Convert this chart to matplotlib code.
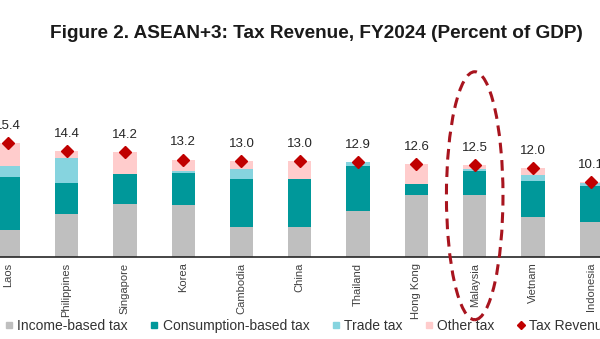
import matplotlib
matplotlib.use('Agg')
import matplotlib.pyplot as plt
from matplotlib.patches import Ellipse
from matplotlib.lines import Line2D
import numpy as np

plt.rcParams['font.family'] = ['Liberation Sans', 'DejaVu Sans']

# 数据 (占GDP百分比)
countries = ['Laos', 'Philippines', 'Singapore', 'Korea', 'Cambodia', 'China',
             'Thailand', 'Hong Kong', 'Malaysia', 'Vietnam', 'Indonesia']
income_tax = [3.66, 5.79, 7.18, 7.00, 4.10, 4.10, 6.23, 8.40, 8.40, 5.38, 4.78]
consumption_tax = [7.22, 4.20, 4.07, 4.34, 6.45, 6.45, 6.13, 1.45, 3.25, 4.96, 4.88]
trade_tax = [1.49, 3.43, 0.00, 0.36, 1.42, 0.00, 0.54, 0.00, 0.31, 0.73, 0.41]
other_tax = [3.03, 0.98, 2.95, 1.50, 1.03, 2.45, 0.00, 2.75, 0.54, 0.93, 0.03]
tax_revenue = [15.4, 14.4, 14.2, 13.2, 13.0, 13.0, 12.9, 12.6, 12.5, 12.0, 10.1]
highlight = 'Malaysia'

c_income = '#BFBFBF'
c_cons = '#00989A'
c_trade = '#86D4DF'
c_other = '#FFCCCC'
c_total = '#C00000'

fig = plt.figure(figsize=(6, 3.39), dpi=100)
# 图表左右两边被裁掉, 所以坐标轴占满整个宽度
ax = fig.add_axes([0, 0.2419, 1, 0.4354])

x = np.arange(len(countries))
w = 0.40
inc = np.array(income_tax)
con = np.array(consumption_tax)
tra = np.array(trade_tax)
oth = np.array(other_tax)

ax.bar(x, inc, w, color=c_income)
ax.bar(x, con, w, bottom=inc, color=c_cons)
ax.bar(x, tra, w, bottom=inc + con, color=c_trade)
ax.bar(x, oth, w, bottom=inc + con + tra, color=c_other)
ax.plot(x, tax_revenue, linestyle='none', marker='D', markersize=6.2,
        color=c_total, zorder=5, clip_on=False)

for xi, v in zip(x, tax_revenue):
    ax.annotate('{:.1f}'.format(v), (xi, v), xytext=(0, 8), textcoords='offset points',
                ha='center', va='bottom', fontsize=9.5, color='#262626',
                annotation_clip=False)

ax.set_xlim(-0.142, 10.149)
ax.set_ylim(0, 20)
ax.set_xticks(x)
ax.set_xticklabels(countries, rotation=90, fontsize=8, color='#404040')
ax.tick_params(axis='x', length=0, pad=4)
ax.set_yticks([])
for s in ['top', 'left', 'right']:
    ax.spines[s].set_visible(False)
ax.spines['bottom'].set_color('#262626')
ax.spines['bottom'].set_linewidth(1.2)

# 马来西亚的虚线椭圆
mi = countries.index(highlight)
ell = Ellipse((mi, 8.3), 0.97, 33.6, fill=False, edgecolor='#A8141E',
              linewidth=2.2, linestyle=(0, (3.5, 2.2)), clip_on=False, zorder=6)
ax.add_patch(ell)

fig.text(0.527, 0.9, 'Figure 2. ASEAN+3: Tax Revenue, FY2024 (Percent of GDP)',
         ha='center', va='center', fontsize=13.7, fontweight='bold', color='#1a1a1a')

handles = [
    Line2D([], [], linestyle='none', marker='s', markersize=5, color=c_income),
    Line2D([], [], linestyle='none', marker='s', markersize=5, color=c_cons),
    Line2D([], [], linestyle='none', marker='s', markersize=5, color=c_trade),
    Line2D([], [], linestyle='none', marker='s', markersize=5, color=c_other),
    Line2D([], [], linestyle='none', marker='D', markersize=4, color=c_total),
]
labels = ['Income-based tax', 'Consumption-based tax', 'Trade tax', 'Other tax', 'Tax Revenue']
fig.legend(handles, labels, loc='center left', bbox_to_anchor=(0.008, 0.038), ncol=5,
           frameon=False, fontsize=10, handlelength=0.6, handletextpad=0.3,
           columnspacing=1.6, borderpad=0, borderaxespad=0, labelcolor='#333333')

fig.savefig('out.png', dpi=100)
